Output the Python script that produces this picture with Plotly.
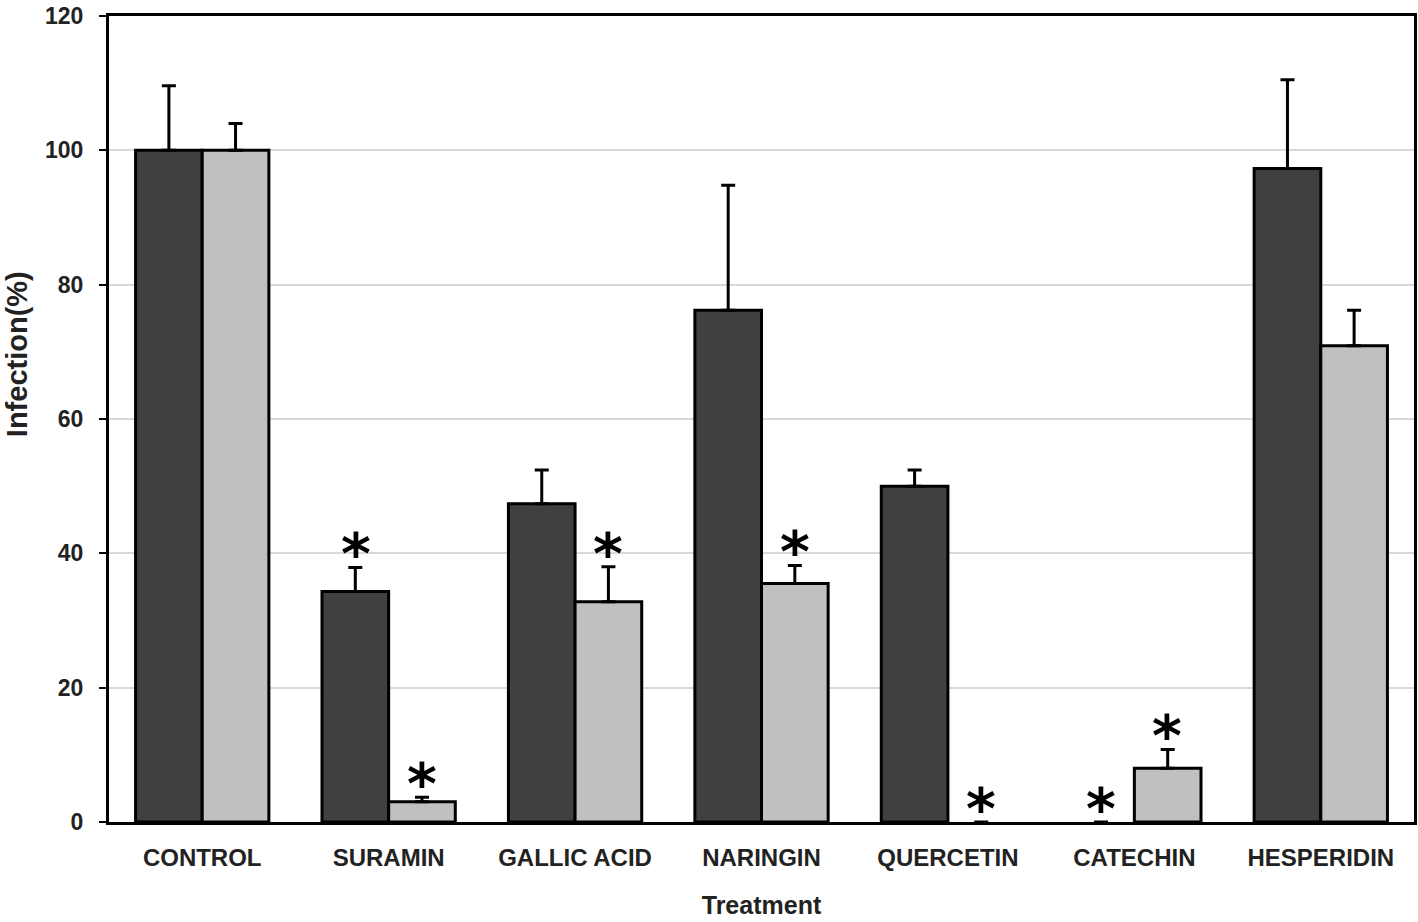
import plotly.graph_objects as go

categories = ["CONTROL", "SURAMIN", "GALLIC ACID", "NARINGIN", "QUERCETIN", "CATECHIN", "HESPERIDIN"]
dark_values = [100, 34.3, 47.4, 76.2, 50.0, 0, 97.3]
dark_errors = [9.6, 3.6, 5.0, 18.6, 2.4, 0, 13.2]
light_values = [100, 3.0, 32.8, 35.5, 0, 8.0, 70.9]
light_errors = [4.0, 0.7, 5.2, 2.7, 0, 2.8, 5.3]
dark_sig = [False, True, False, False, False, True, False]
light_sig = [False, True, True, True, True, True, False]

FONT = "Liberation Sans, Arial, sans-serif"
STAR_FONT = "DejaVu Sans, Liberation Sans, sans-serif"


def outline_widths(vals):
    return [3 if v > 0 else 0 for v in vals]


def shown_errors(vals, errs):
    return [e if v > 0 else None for v, e in zip(vals, errs)]


fig = go.Figure()
for vals, errs, color, name in ((dark_values, dark_errors, "#404040", "dark"),
                                (light_values, light_errors, "#c0c0c0", "light")):
    fig.add_trace(go.Bar(
        x=categories, y=vals, name=name,
        marker=dict(color=color, line=dict(color="black", width=outline_widths(vals))),
        error_y=dict(type="data", array=shown_errors(vals, errs), arrayminus=[0]*len(errs),
                     symmetric=False, color="black", thickness=3, width=7),
    ))

annotations = []
for i, c in enumerate(categories):
    for sig, vals, errs, off in ((dark_sig, dark_values, dark_errors, -1), (light_sig, light_values, light_errors, 1)):
        if sig[i]:
            annotations.append(dict(
                x=i + off * 0.1775, y=vals[i] + errs[i], xref="x", yref="y",
                text="<b>*</b>", showarrow=False, yanchor="middle", yshift=13,
                font=dict(family=STAR_FONT, size=57, color="black"),
            ))

annotations.append(dict(
    x=-0.0704, y=0.5806, xref="paper", yref="paper", text="<b>Infection(%)</b>",
    xanchor="center", yanchor="middle",
    textangle=-90, showarrow=False, font=dict(family=FONT, size=29, color="#222"),
))

fig.update_layout(
    width=1418, height=922,
    margin=dict(l=109, r=4, t=16, b=100, autoexpand=False),
    paper_bgcolor="white", plot_bgcolor="white",
    barmode="group", bargap=0.285, bargroupgap=0,
    showlegend=False,
    annotations=annotations,
    font=dict(family=FONT, color="#222"),
)
fig.update_xaxes(
    showline=True, linecolor="black", linewidth=3, mirror=True, automargin=False,
    ticks="outside", ticklen=12, tickcolor="rgba(0,0,0,0)",
    tickfont=dict(family=FONT, size=24, color="#222", weight="bold"),
    title=dict(text="<b>Treatment</b>", font=dict(family=FONT, size=25, color="#222"), standoff=27),
)
fig.update_yaxes(
    range=[0, 120], dtick=20, showline=True, linecolor="black", linewidth=3, mirror=True,
    automargin=False,
    ticks="outside", ticklen=7, tickwidth=2, tickcolor="black", ticklabelstandoff=11,
    ticklabeloverflow="allow",
    gridcolor="#d9d9d9", gridwidth=2, zeroline=False,
    tickfont=dict(family=FONT, size=23, color="#222", weight="bold"),
)

fig.write_html("out.html", config={"displayModeBar": False},
               post_script="document.body.style.margin='0';")
